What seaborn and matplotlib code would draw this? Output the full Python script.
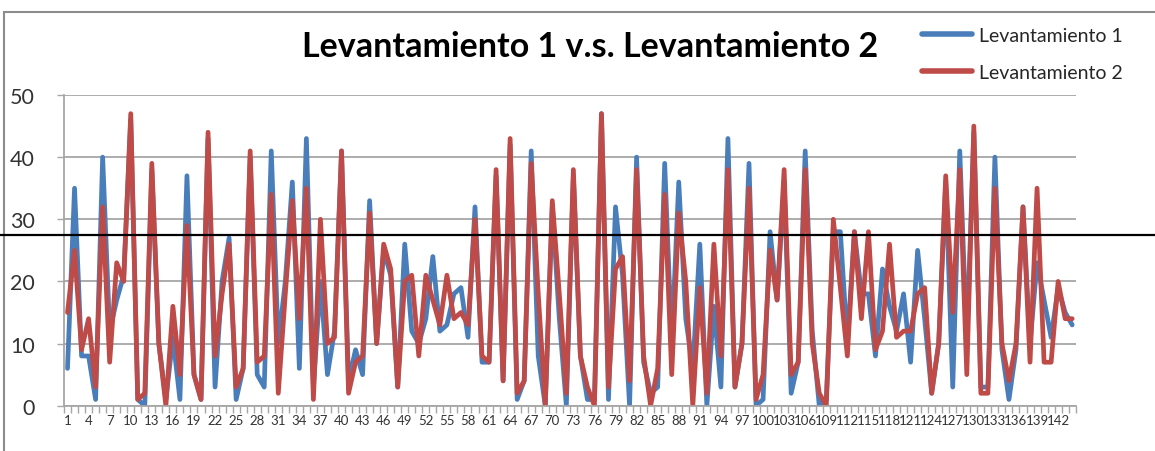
import matplotlib
matplotlib.use("Agg")
import numpy as np
import pandas as pd
import matplotlib.pyplot as plt
import seaborn as sns
from matplotlib.lines import Line2D
from matplotlib.patches import Rectangle

# valores (144 puntos)
puntos = list(range(1, 145))
levantamiento_1 = [
    6, 35, 8, 8, 1, 40, 12, 17, 21, 46,
    1, 0, 38, 10, 1, 11, 1, 37, 5, 1,
    43, 3, 20, 27, 1, 6, 40, 5, 3, 41,
    10, 20, 36, 6, 43, 3, 20, 5, 12, 41,
    4, 9, 5, 33, 10, 25, 21, 3, 26, 12,
    10, 14, 24, 12, 13, 18, 19, 11, 32, 7,
    7, 37, 4, 42, 1, 4, 41, 8, 0, 32,
    14, 0, 37, 8, 1, 1, 47, 1, 32, 21,
    0, 40, 7, 2, 3, 39, 10, 36, 14, 6,
    26, 0, 16, 3, 43, 3, 10, 39, 0, 1,
    28, 17, 36, 2, 7, 41, 12, 0, 1, 28,
    28, 10, 28, 18, 18, 8, 22, 16, 12, 18,
    7, 25, 14, 2, 10, 36, 3, 41, 10, 44,
    3, 3, 40, 9, 1, 9, 32, 10, 23, 17,
    11, 19, 15, 13,
]
levantamiento_2 = [
    15, 25, 9, 14, 3, 32, 7, 23, 20, 47,
    1, 2, 39, 10, 0, 16, 5, 29, 5, 1,
    44, 8, 18, 26, 3, 6, 41, 7, 8, 34,
    2, 18, 33, 14, 35, 1, 30, 10, 11, 41,
    2, 7, 8, 31, 10, 26, 22, 3, 20, 21,
    8, 21, 17, 13, 21, 14, 15, 13, 30, 8,
    7, 38, 4, 43, 2, 4, 39, 18, 0, 33,
    18, 2, 38, 8, 3, 0, 47, 3, 22, 24,
    4, 38, 8, 0, 6, 34, 5, 31, 20, 0,
    19, 2, 26, 8, 38, 3, 10, 35, 1, 5,
    25, 17, 38, 5, 7, 38, 10, 2, 0, 30,
    19, 8, 28, 14, 28, 9, 12, 26, 11, 12,
    12, 18, 19, 2, 10, 37, 15, 38, 5, 45,
    2, 2, 35, 10, 4, 10, 32, 7, 35, 7,
    7, 20, 14, 14,
]
series = ["Levantamiento 1", "Levantamiento 2"]
colores = ["#4A7EBB", "#BE4B48"]

df = pd.DataFrame({
    "Punto": puntos * 2,
    "Valor": levantamiento_1 + levantamiento_2,
    "Serie": [series[0]] * len(puntos) + [series[1]] * len(puntos),
})

sns.set_theme(style="white")
plt.rcParams["font.family"] = ["Lato", "DejaVu Sans"]

W, H = 1155, 452
fig = plt.figure(figsize=(W / 100, H / 100), dpi=100)
ax = fig.add_axes([64 / W, 1 - 406.7 / H, (1075.7 - 64) / W, (406.7 - 96) / H])

sns.lineplot(data=df, x="Punto", y="Valor", hue="Serie", palette=colores,
             linewidth=3.4, ax=ax, legend=False)

ax.set_xlim(0.5, len(puntos) + 0.5)
ax.set_ylim(0, 50)
ax.set_xlabel("")
ax.set_ylabel("")

# eje y
ax.set_yticks(range(0, 51, 10))
ax.yaxis.grid(True, color="#A6A6A6", linewidth=1.3)
ax.tick_params(axis="y", labelsize=15.5, labelcolor="#333333", length=5,
               width=1, color="#A6A6A6", direction="out", left=True, pad=16)

# eje x: etiquetas cada 3 categorias, marcas en cada limite
ax.set_xticks(puntos[::3])
ax.set_xticklabels([str(p) for p in puntos[::3]])
ax.set_xticks(np.arange(0.5, len(puntos) + 1, 1), minor=True)
ax.tick_params(axis="x", which="major", length=0, labelsize=9.5,
               labelcolor="#333333", pad=6)
ax.tick_params(axis="x", which="minor", length=5, width=1,
               color="#A6A6A6", direction="out", bottom=True)

for side in ["top", "right"]:
    ax.spines[side].set_visible(False)
for side in ["left", "bottom"]:
    ax.spines[side].set_color("#A6A6A6")
    ax.spines[side].set_linewidth(1.3)

fig.text(590 / W, 1 - 47 / H, "Levantamiento 1 v.s. Levantamiento 2",
         ha="center", va="center", fontsize=24.5, fontweight="bold", color="black")

handles = [Line2D([0], [0], color=c, linewidth=4) for c in colores]
fig.legend(handles, series, loc="upper left",
           bbox_to_anchor=(914 / W, 1 - 20 / H), frameon=False,
           fontsize=14, handlelength=2.6, handletextpad=0.35,
           labelspacing=1.05, borderaxespad=0)

# marco del area del grafico
fig.add_artist(Rectangle((4 / W, -0.1), 1.2, 1 - 13 / H + 0.1,
                         transform=fig.transFigure, fill=False,
                         edgecolor="#8C8C8C", linewidth=1.5))

# linea negra horizontal de referencia
fig.add_artist(Line2D([0, 1], [1 - 236 / H] * 2, transform=fig.transFigure,
                      color="black", linewidth=1.6, zorder=10))

fig.savefig("out.png", dpi=100)
